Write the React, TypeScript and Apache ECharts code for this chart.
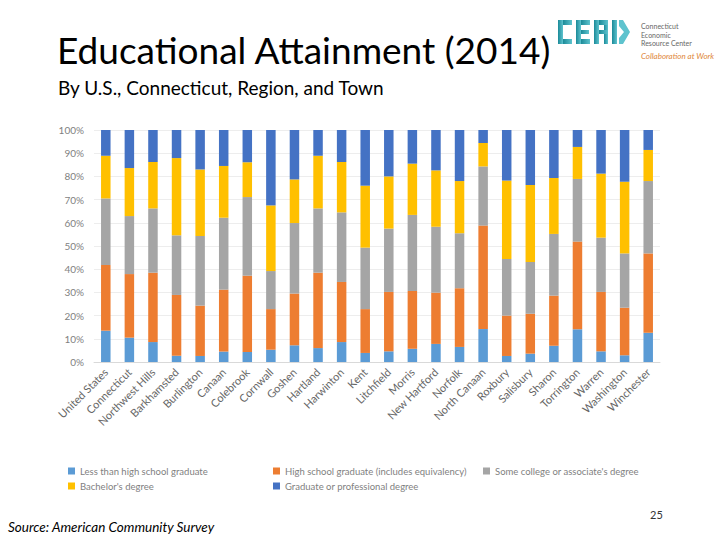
import React, { useEffect, useRef } from "react";
import * as echarts from "echarts";

const categories = [
  "United States", "Connecticut", "Northwest Hills", "Barkhamsted", "Burlington",
  "Canaan", "Colebrook", "Cornwall", "Goshen", "Hartland", "Harwinton", "Kent",
  "Litchfield", "Morris", "New Hartford", "Norfolk", "North Canaan", "Roxbury",
  "Salisbury", "Sharon", "Torrington", "Warren", "Washington", "Winchester",
];

const lessThanHS = [13.5, 10.5, 8.6, 2.7, 2.6, 4.5, 4.3, 5.3, 7.2, 6.0, 8.6, 3.9, 4.6, 5.7, 7.8, 6.5, 14.2, 2.6, 3.6, 7.0, 14.1, 4.6, 2.9, 12.6];
const highSchool = [28.3, 27.4, 29.9, 26.2, 21.7, 26.7, 32.9, 17.5, 22.3, 32.5, 25.9, 18.9, 25.6, 24.9, 22.1, 25.3, 44.6, 17.4, 17.2, 21.6, 37.8, 25.6, 20.5, 34.2];
const someCollege = [28.7, 25.0, 27.7, 25.7, 30.0, 31.0, 33.9, 16.4, 30.4, 27.7, 30.0, 26.5, 27.3, 32.8, 28.4, 23.7, 25.5, 24.4, 22.3, 26.6, 27.0, 23.4, 23.4, 31.2];
const bachelors = [18.4, 20.7, 20.0, 33.3, 28.7, 22.3, 15.0, 28.3, 18.8, 22.7, 21.7, 26.7, 22.5, 22.1, 24.3, 22.5, 10.1, 33.8, 33.2, 24.1, 13.8, 27.6, 30.9, 13.4];
const graduate = [11.1, 16.4, 13.8, 12.1, 17.0, 15.5, 13.9, 32.5, 21.3, 11.1, 13.8, 24.0, 20.0, 14.5, 17.4, 22.0, 5.6, 21.8, 23.7, 20.7, 7.3, 18.8, 22.3, 8.6];

const seriesNames = [
  "Less than high school graduate",
  "High school graduate (includes equivalency)",
  "Some college or associate's degree",
  "Bachelor's degree",
  "Graduate or professional degree",
];
const seriesColors = ["#5B9BD5", "#ED7D31", "#A5A5A5", "#FFC000", "#4472C4"];
const seriesValues = [lessThanHS, highSchool, someCollege, bachelors, graduate];

const FONT = "Lato, 'Open Sans', sans-serif";

export default function App() {
  const ref = useRef<HTMLDivElement>(null);
  useEffect(() => {
    document.body.style.margin = "0";
    const chart = echarts.init(ref.current!, null, { renderer: "svg" });
    const teal = new echarts.graphic.LinearGradient(0, 0, 1, 0, [
      { offset: 0, color: "#1B8A98" },
      { offset: 1, color: "#5EC3CE" },
    ]);
    const logoRects: any[] = [
      // C
      [558, 20, 5, 24], [563, 20, 9, 5], [563, 39, 9, 5],
      // E
      [576, 20, 5, 24], [581, 20, 9, 5], [581, 30, 8, 4], [581, 39, 9, 5],
      // R
      [594, 20, 5, 24], [599, 20, 9, 5], [604, 25, 4, 5], [599, 30, 9, 4], [604, 34, 4, 10],
      // C / arrow
      [612, 20, 5, 24],
    ].map(([x, y, w, h]) => ({
      type: "rect",
      shape: { x, y, width: w, height: h },
      style: { fill: teal },
    }));
    logoRects.push({
      type: "polygon",
      shape: { points: [[619, 20], [623, 20], [630, 32], [623, 44], [619, 44], [619, 38], [624, 32], [619, 26]] },
      style: { fill: "#5EC3CE" },
    });
    const legendCommon = {
      orient: "vertical", itemWidth: 7, itemHeight: 7, itemGap: 5, icon: "rect",
      textStyle: { fontSize: 9.5, color: "#7F7F7F", fontFamily: FONT },
    };
    chart.setOption({
      animation: false,
      textStyle: { fontFamily: FONT },
      grid: { left: 94, top: 130, width: 566, height: 232, containLabel: false },
      legend: [
        { ...legendCommon, left: 63, top: 461, data: [seriesNames[0], seriesNames[3]] },
        { ...legendCommon, left: 268, top: 461, data: [seriesNames[1], seriesNames[4]] },
        { ...legendCommon, left: 478, top: 461, data: [seriesNames[2]] },
      ],
      xAxis: {
        type: "category",
        data: categories,
        axisLine: { show: true, lineStyle: { color: "#D9D9D9" } },
        axisTick: { show: false },
        axisLabel: { rotate: 45, fontSize: 11, color: "#666666", interval: 0, margin: 8, fontFamily: FONT },
      },
      yAxis: {
        type: "value",
        min: 0,
        max: 100,
        interval: 10,
        axisLine: { show: false },
        axisTick: { show: false },
        axisLabel: { formatter: "{value}%", fontSize: 10, color: "#7F7F7F", margin: 10, fontFamily: FONT },
        splitLine: { lineStyle: { color: "#EDEDED" } },
      },
      series: seriesValues.map((vals, i) => ({
        name: seriesNames[i],
        type: "bar",
        stack: "total",
        barWidth: 9.5,
        data: vals,
        itemStyle: { color: seriesColors[i] },
      })),
      graphic: [
        {
          type: "text", left: 57, top: 31,
          style: { text: "Educational Attainment (2014)", fontSize: 37, fill: "#000", fontFamily: FONT },
        },
        {
          type: "text", left: 58, top: 78,
          style: { text: "By U.S., Connecticut, Region, and Town", fontSize: 19, fill: "#000", fontFamily: FONT },
        },
        ...logoRects,
        {
          type: "text", left: 641, top: 22,
          style: { text: "Connecticut\nEconomic\nResource Center", fontSize: 7, lineHeight: 8.5, fill: "#666", fontFamily: FONT },
        },
        {
          type: "text", left: 641, top: 52,
          style: { text: "Collaboration at Work", fontSize: 8, fontStyle: "italic", fill: "#E0873A", fontFamily: FONT },
        },
        {
          type: "text", left: 8, top: 520,
          style: { text: "Source: American Community Survey", fontSize: 13.5, fontStyle: "italic", fill: "#000", fontFamily: FONT },
        },
        {
          type: "text", left: 650, top: 509,
          style: { text: "25", fontSize: 11, fill: "#333", fontFamily: FONT },
        },
      ],
    });
    return () => chart.dispose();
  }, []);
  return <div ref={ref} style={{ position: "absolute", left: 0, top: 0, width: 720, height: 540, background: "#fff" }} />;
}
